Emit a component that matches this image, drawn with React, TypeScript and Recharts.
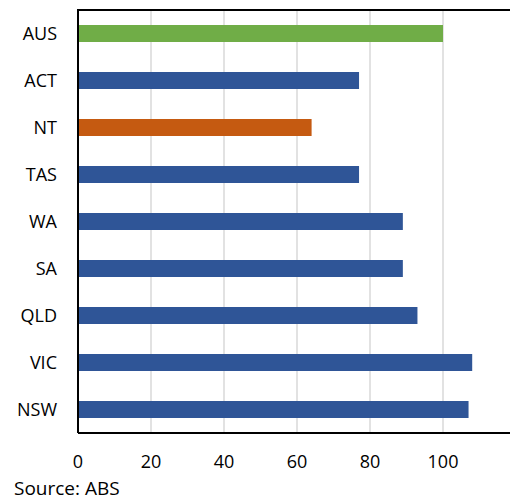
import React from 'react'
import { BarChart, Bar, XAxis, YAxis, CartesianGrid, Cell } from 'recharts'

const categories = ['AUS', 'ACT', 'NT', 'TAS', 'WA', 'SA', 'QLD', 'VIC', 'NSW']
const values = [100, 77, 64, 77, 89, 89, 93, 108, 107]
const xTicks = [0, 20, 40, 60, 80, 100]

const FONT = '"Open Sans", "Noto Sans", sans-serif'
const MARGIN_TOP = 10
const Y_AXIS_W = 78

function colorFor(cat: string): string {
  if (cat === 'AUS') return '#70ad47'
  if (cat === 'NT') return '#c55a11'
  return '#2f5597'
}

const data = categories.map((name, i) => ({ name, value: values[i] }))

export default function App() {
  return (
    <div
      style={{
        position: 'absolute',
        left: 0,
        top: 0,
        width: 511,
        height: 500,
        overflow: 'hidden',
        background: '#fff',
        fontFamily: FONT,
      }}
    >
      <div style={{ position: 'absolute', left: 0, top: 0, width: 510, height: 500, overflow: 'hidden' }}>
        <BarChart
          width={530}
          height={500}
          data={data}
          layout="vertical"
          margin={{ top: MARGIN_TOP, right: 14, left: 0, bottom: 40 }}
          barSize={17}
        >
          <CartesianGrid horizontal={false} stroke="#d9d9d9" strokeWidth={1.5} />
          <XAxis
            type="number"
            domain={[0, 120]}
            ticks={xTicks}
            interval={0}
            height={27}
            tickSize={0}
            tickMargin={22}
            axisLine={{ stroke: '#000', strokeWidth: 2 }}
            tickLine={false}
            tick={{ fill: '#000', fontSize: 18, fontFamily: FONT }}
          />
          <YAxis
            type="category"
            dataKey="name"
            width={Y_AXIS_W}
            tickSize={0}
            tickMargin={21}
            axisLine={{ stroke: '#000', strokeWidth: 2 }}
            tickLine={false}
            tick={{ fill: '#000', fontSize: 18, fontFamily: FONT }}
          />
          <Bar dataKey="value" isAnimationActive={false}>
            {data.map((d) => (
              <Cell key={d.name} fill={colorFor(d.name)} />
            ))}
          </Bar>
        </BarChart>
      </div>
      {/* top edge of the plot frame */}
      <div
        style={{
          position: 'absolute',
          zIndex: 5,
          left: Y_AXIS_W - 1,
          top: MARGIN_TOP - 1,
          width: 510 - Y_AXIS_W + 1,
          height: 2,
          background: '#000',
        }}
      />
      <div
        style={{
          position: 'absolute',
          left: 14,
          top: 477,
          fontSize: 19,
          lineHeight: '22px',
          color: '#000',
        }}
      >
        Source: ABS
      </div>
    </div>
  )
}
